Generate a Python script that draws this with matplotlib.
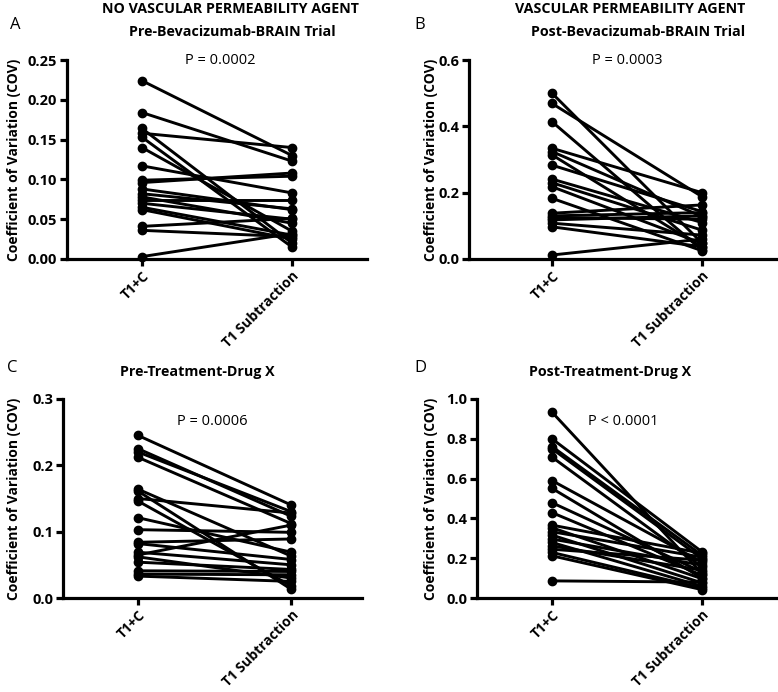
import matplotlib
matplotlib.use("Agg")
import matplotlib.pyplot as plt
from matplotlib.ticker import FormatStrFormatter

plt.rcParams['font.family'] = ['Open Sans', 'DejaVu Sans']

# paired COV values (T1+C -> T1 Subtraction)
groups = ["T1+C", "T1 Subtraction"]

pre_a = [0.224, 0.184, 0.164, 0.158, 0.153, 0.140, 0.117, 0.099, 0.096, 0.088,
         0.082, 0.078, 0.074, 0.070, 0.065, 0.062, 0.041, 0.036, 0.003]
sub_a = [0.130, 0.123, 0.020, 0.140, 0.015, 0.035, 0.083, 0.104, 0.108, 0.062,
         0.063, 0.045, 0.074, 0.050, 0.030, 0.025, 0.051, 0.028, 0.032]

pre_b = [0.500, 0.469, 0.414, 0.334, 0.324, 0.314, 0.283, 0.241, 0.230, 0.218,
         0.183, 0.138, 0.130, 0.125, 0.118, 0.108, 0.097, 0.012]
sub_b = [0.048, 0.188, 0.027, 0.200, 0.128, 0.035, 0.143, 0.110, 0.087, 0.047,
         0.025, 0.163, 0.140, 0.120, 0.130, 0.072, 0.037, 0.060]

pre_c = [0.245, 0.225, 0.220, 0.212, 0.164, 0.161, 0.150, 0.146, 0.121, 0.103,
         0.084, 0.082, 0.069, 0.065, 0.062, 0.054, 0.041, 0.036, 0.033]
sub_c = [0.140, 0.123, 0.130, 0.112, 0.063, 0.013, 0.128, 0.018, 0.069, 0.099,
         0.089, 0.058, 0.050, 0.110, 0.030, 0.043, 0.040, 0.035, 0.025]

pre_d = [0.934, 0.800, 0.761, 0.750, 0.708, 0.590, 0.551, 0.479, 0.429, 0.366,
         0.353, 0.333, 0.316, 0.296, 0.279, 0.262, 0.245, 0.229, 0.212, 0.086]
sub_d = [0.123, 0.232, 0.215, 0.198, 0.156, 0.180, 0.100, 0.131, 0.114, 0.225,
         0.097, 0.205, 0.076, 0.165, 0.059, 0.140, 0.190, 0.050, 0.042, 0.080]

yticks_a = [0.00, 0.05, 0.10, 0.15, 0.20, 0.25]
yticks_b = [0.0, 0.2, 0.4, 0.6]
yticks_c = [0.0, 0.1, 0.2, 0.3]
yticks_d = [0.0, 0.2, 0.4, 0.6, 0.8, 1.0]

p_texts = ["P = 0.0002", "P = 0.0003", "P = 0.0006", "P < 0.0001"]

W, H = 778, 692
fig = plt.figure(figsize=(W / 100, H / 100), dpi=100)


def px_box(left, right, top, bottom):
    return [left / W, 1 - bottom / H, (right - left) / W, (bottom - top) / H]


def draw_panel(box, xlim, pre, sub, yticks, fmt, label_x):
    ax = fig.add_axes(box)
    for a, b in zip(pre, sub):
        ax.plot([0, 1], [a, b], color='black', lw=2.1, marker='o', ms=6,
                clip_on=False, solid_capstyle='round')
    ax.set_xlim(*xlim)
    ax.set_ylim(yticks[0], yticks[-1])
    ax.set_yticks(yticks)
    ax.yaxis.set_major_formatter(FormatStrFormatter(fmt))
    ax.set_xticks([0, 1])
    ax.set_xticklabels(groups, rotation=45, ha='right', va='top',
                       rotation_mode='anchor', fontweight='bold', fontsize=10)
    for lab in ax.get_yticklabels():
        lab.set_fontweight('bold')
        lab.set_fontsize(10.5)
    ax.spines['top'].set_visible(False)
    ax.spines['right'].set_visible(False)
    ax.spines['left'].set_linewidth(2.3)
    ax.spines['bottom'].set_linewidth(2.3)
    ax.tick_params(direction='out', length=5, width=2.3, pad=2)
    ax.set_ylabel("Coefficient of Variation (COV)", fontweight='bold',
                  fontsize=10)
    # right edge of the rotated label, in pixels from the figure's left
    ax.yaxis.set_label_coords((label_x - box[0] * W) / (box[2] * W), 0.5)
    return ax


draw_panel(px_box(67, 367, 60, 259), (-0.5, 1.5), pre_a, sub_a, yticks_a, '%.2f', 21)
draw_panel(px_box(469, 777, 60, 259), (-0.553, 1.5), pre_b, sub_b, yticks_b, '%.1f', 438)
draw_panel(px_box(63, 362, 399, 598), (-0.49, 1.46), pre_c, sub_c, yticks_c, '%.1f', 21)
draw_panel(px_box(477, 777, 399, 598), (-0.5, 1.5), pre_d, sub_d, yticks_d, '%.1f', 438)


def ftext(x, y, s, **kw):
    fig.text(x / W, 1 - y / H, s, ha='center', va='center', **kw)


# panel letters
ftext(15, 25, "A", fontsize=12)
ftext(420, 25, "B", fontsize=12)
ftext(12, 368, "C", fontsize=12)
ftext(420, 368, "D", fontsize=12)

# titles
ftext(230, 9, "NO VASCULAR PERMEABILITY AGENT", fontsize=10.3, fontweight='bold')
ftext(232, 32, "Pre-Bevacizumab-BRAIN Trial", fontsize=10.3, fontweight='bold')
ftext(630, 9, "VASCULAR PERMEABILITY AGENT", fontsize=10.3, fontweight='bold')
ftext(638, 32, "Post-Bevacizumab-BRAIN Trial", fontsize=10.3, fontweight='bold')
ftext(197, 372, "Pre-Treatment-Drug X", fontsize=10.3, fontweight='bold')
ftext(610, 372, "Post-Treatment-Drug X", fontsize=10.3, fontweight='bold')

# p values
ftext(220, 60, p_texts[0], fontsize=10.5)
ftext(627, 60, p_texts[1], fontsize=10.5)
ftext(212, 421, p_texts[2], fontsize=10.5)
ftext(623, 421, p_texts[3], fontsize=10.5)

fig.savefig("out.png", dpi=100)
